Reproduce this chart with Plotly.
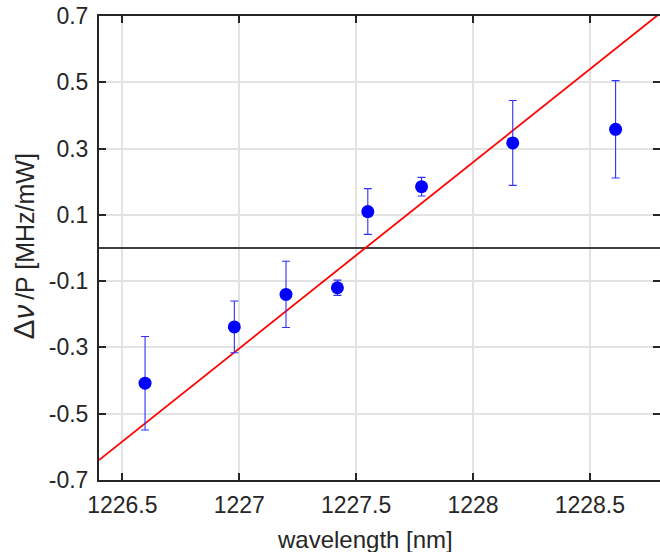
import plotly.graph_objects as go

# data
wavelength = [1226.597, 1226.979, 1227.20, 1227.42, 1227.55, 1227.78, 1228.17, 1228.61]
shift = [-0.408, -0.238, -0.140, -0.120, 0.110, 0.185, 0.317, 0.358]
err = [0.141, 0.078, 0.100, 0.023, 0.069, 0.028, 0.128, 0.147]

fit_x = [1226.4, 1228.8]
fit_y = [-0.640, 0.708]

x_ticks = [1226.5, 1227, 1227.5, 1228, 1228.5]
x_ticklabels = ["1226.5", "1227", "1227.5", "1228", "1228.5"]
y_ticks = [-0.7, -0.5, -0.3, -0.1, 0.1, 0.3, 0.5, 0.7]
y_ticklabels = ["-0.7", "-0.5", "-0.3", "-0.1", "0.1", "0.3", "0.5", "0.7"]

FONT = "Liberation Sans, Arial, Helvetica, sans-serif"
DARK = "#262626"

fig = go.Figure()

fig.add_trace(go.Scatter(
    x=fit_x, y=fit_y, mode="lines",
    line=dict(color="#ff0000", width=1.8),
    showlegend=False, hoverinfo="skip",
))

fig.add_trace(go.Scatter(
    x=wavelength, y=shift, mode="markers",
    marker=dict(color="#0000ff", size=13, line=dict(width=0)),
    error_y=dict(type="data", array=err, visible=True,
                 color="#2f2fff", thickness=1.1, width=4),
    showlegend=False,
))

# invisible trace for right-side ticks
fig.add_trace(go.Scatter(x=[1227], y=[0], mode="markers",
                         marker=dict(opacity=0), yaxis="y2",
                         showlegend=False, hoverinfo="skip"))

fig.update_layout(
    width=660, height=552,
    margin=dict(l=98.6, r=0, t=16, b=72, autoexpand=False),
    paper_bgcolor="white", plot_bgcolor="white",
    font=dict(family=FONT, size=23, color=DARK),
    xaxis=dict(
        range=[1226.4, 1228.8], automargin=False,
        tickmode="array", tickvals=x_ticks, ticktext=x_ticklabels,
        ticks="inside", ticklen=7, tickwidth=1.5, tickcolor=DARK,
        showline=True, linecolor=DARK, linewidth=2, mirror="ticks",
        showgrid=True, gridcolor="#e3e3e3", gridwidth=1.5,
        zeroline=False,
        tickfont=dict(size=23, color=DARK, family=FONT),
        ticklabelstandoff=3,
    ),
    yaxis=dict(
        range=[-0.7, 0.7], automargin=False,
        tickmode="array", tickvals=y_ticks, ticktext=y_ticklabels,
        ticks="inside", ticklen=7, tickwidth=1.5, tickcolor=DARK,
        showline=True, linecolor=DARK, linewidth=2, mirror=False,
        showgrid=True, gridcolor="#e3e3e3", gridwidth=1.5,
        zeroline=True, zerolinecolor="#404040", zerolinewidth=1.5,
        tickfont=dict(size=23, color=DARK, family=FONT),
        ticklabelstandoff=4,
    ),
    yaxis2=dict(
        range=[-0.7, 0.7], overlaying="y", side="right", automargin=False,
        tickmode="array", tickvals=y_ticks,
        ticks="inside", ticklen=7, tickwidth=1.5, tickcolor=DARK,
        showline=False, showgrid=False, zeroline=False,
        showticklabels=False,
    ),
    annotations=[
        dict(text="wavelength [nm]", xref="paper", yref="paper",
             x=0.4745, y=-0.129, xanchor="center", yanchor="middle",
             showarrow=False, font=dict(size=24, color=DARK, family=FONT)),
        dict(text=('<span style="font-size:30px">Δ</span>'
                   '<span style="font-size:29px"><i>ν</i></span>'
                   '\u2009/P [MHz/mW]'),
             xref="paper", yref="paper",
             x=-0.135, y=0.504, xanchor="center", yanchor="middle",
             textangle=-90, showarrow=False,
             font=dict(size=25, color=DARK, family=FONT)),
    ],
)

fig.write_html(
    "out.html",
    config={"displayModeBar": False},
    post_script="document.body.style.margin='0';document.body.style.overflow='hidden';",
)
